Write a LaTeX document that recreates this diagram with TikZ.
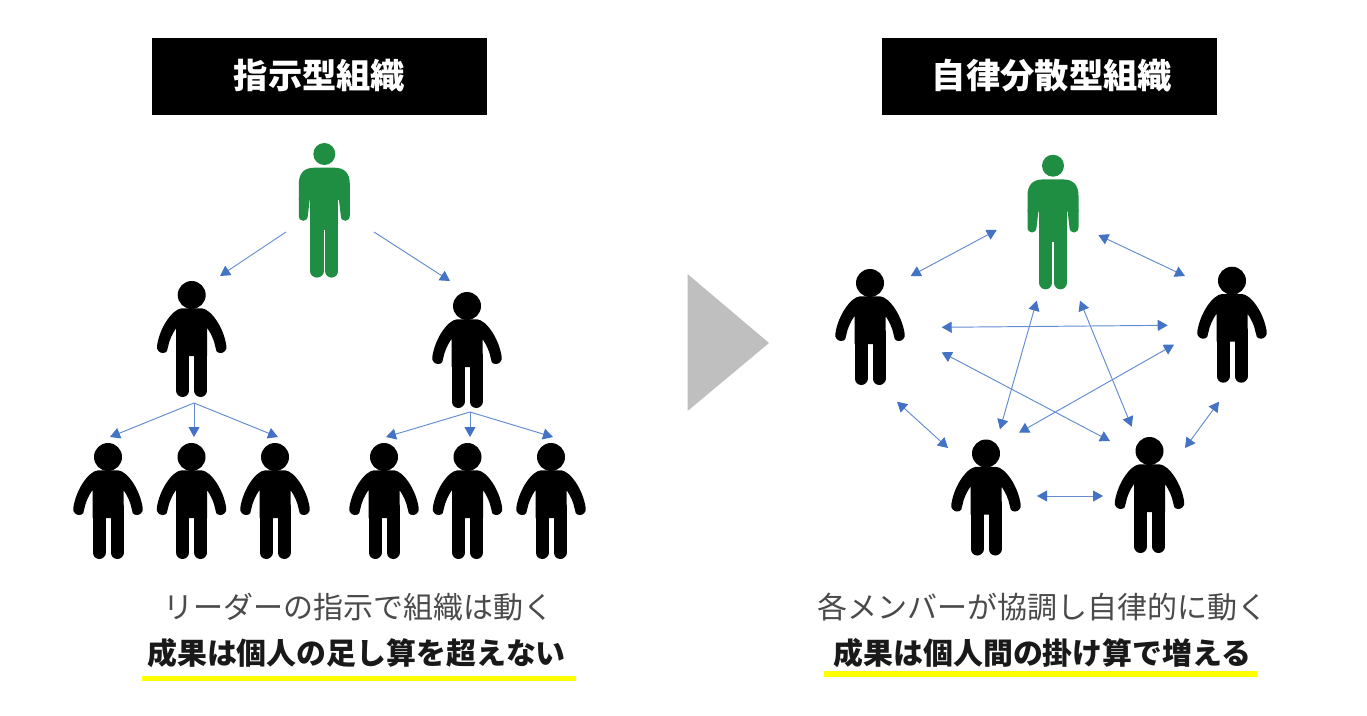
\documentclass[tikz,border=0pt]{standalone}
\usepackage{fontspec}
\usetikzlibrary{arrows.meta}
\setmainfont{Noto Sans CJK JP}
\definecolor{arrowblue}{HTML}{4472C4}
\definecolor{lineblue}{HTML}{658CD2}
\definecolor{leadgreen}{HTML}{1F8E43}
\definecolor{tri}{HTML}{BFBFBF}
\definecolor{capgray}{HTML}{4A4A4A}
\definecolor{barcol}{HTML}{FFFF00}
\tikzset{
  flow/.style={draw=lineblue,line width=0.95pt,-{Triangle[length=10pt,width=11pt,color=arrowblue]}},
  both/.style={draw=lineblue,line width=0.95pt,{Triangle[length=10pt,width=11pt,color=arrowblue]}-{Triangle[length=10pt,width=11pt,color=arrowblue]}},
  headbox/.style={fill=black},
  headtext/.style={text=white,inner sep=0pt,font=\fontsize{34.3}{38}\selectfont\bfseries},
  capthin/.style={text=capgray,inner sep=0pt,font=\fontsize{30}{34}\selectfont},
  capbold/.style={text=black!90,inner sep=0pt,font=\fontsize{29.9}{34}\selectfont\bfseries},
  bar/.style={fill=barcol,minimum height=5.5pt,inner sep=0pt,anchor=west}
}
\newcommand{\blackman}[2]{%
  \begin{scope}[shift={(#1,#2)}]
    \fill[black] (0,0) circle[radius=14pt];
    \fill[black] (-10,13.3) -- (10,13.3)
      .. controls (19,14) and (32,32) .. (34.7,51)
      .. controls (35.5,55) and (32,58) .. (29,58)
      .. controls (25,58) and (23.5,55) .. (23.7,52)
      .. controls (22.5,45) and (19,38) .. (15.5,33)
      -- (15.5,61) -- (-15.5,61) -- (-15.5,33)
      .. controls (-19,38) and (-22.5,45) .. (-23.7,52)
      .. controls (-23.5,55) and (-25,58) .. (-29,58)
      .. controls (-32,58) and (-35.5,55) .. (-34.7,51)
      .. controls (-32,32) and (-19,14) .. (-10,13.3) -- cycle;
    \draw[black,line width=13pt,line cap=round] (-9,50) -- (-9,95.5);
    \draw[black,line width=13pt,line cap=round] (9,50) -- (9,95.5);
  \end{scope}}
\newcommand{\greenman}[2]{%
  \begin{scope}[shift={(#1,#2)}]
    \fill[leadgreen] (0,0) circle[radius=11pt];
    \fill[leadgreen] (-25.5,30) .. controls (-25.5,19) and (-20,13.7) .. (-10,13.7) -- (10,13.7) .. controls (20,13.7) and (25.5,19) .. (25.5,30) -- (25.5,46) -- (-25.5,46) -- cycle;
    \fill[leadgreen] (-14,30) rectangle (14,76);
    \fill[leadgreen] (-25.5,44) -- (-25.5,61.7) .. controls (-25.5,68.5) and (-16.5,68.5) .. (-16.5,61.7) -- (-14.4,44) -- cycle;
    \fill[leadgreen] (25.5,44) -- (25.5,61.7) .. controls (25.5,68.5) and (16.5,68.5) .. (16.5,61.7) -- (14.4,44) -- cycle;
    \draw[leadgreen,line width=13.2pt,line cap=round] (-7.4,70) -- (-7.4,117);
    \draw[leadgreen,line width=13.2pt,line cap=round] (7.4,70) -- (7.4,117);
  \end{scope}}
\begin{document}
\begin{tikzpicture}[x=1pt,y=-1pt]
\useasboundingbox[fill=white] (0,0) rectangle (1367,715);
% headers
\fill[headbox] (152,38) rectangle (486.5,115);
\fill[headbox] (882,38) rectangle (1217,115);
\node[headtext] (hl) at (319.5,75.5) {指示型組織};
\node[headtext] (hr) at (1052,75.5) {自律分散型組織};
% figures left
\greenman{324.3}{154}
\blackman{191.7}{295}
\blackman{467}{306}
\blackman{108}{457}
\blackman{191.5}{457}
\blackman{275}{457}
\blackman{384}{457}
\blackman{467.5}{457}
\blackman{551}{457}
% figures right
\greenman{1053}{165.7}
\blackman{870}{283}
\blackman{1232}{280.7}
\blackman{986}{453.5}
\blackman{1149.5}{451}
% triangle
\fill[tri] (687.5,274) -- (769,343) -- (687.5,411) -- cycle;
% arrow anchors left
\coordinate (a1) at (286,232); \coordinate (a2) at (220,276);
\coordinate (a3) at (374,232); \coordinate (a4) at (450,281);
\coordinate (b0) at (194,403); \coordinate (b1) at (110,437); \coordinate (b2) at (194,437); \coordinate (b3) at (278,437);
\coordinate (c0) at (470,412); \coordinate (c1) at (386,437); \coordinate (c2) at (470,437); \coordinate (c3) at (553,437);
\draw[flow] (a1) -- (a2);
\draw[flow] (a3) -- (a4);
\draw[flow] (b0) -- (b1);
\draw[flow] (b0) -- (b2);
\draw[flow] (b0) -- (b3);
\draw[flow] (c0) -- (c1);
\draw[flow] (c0) -- (c2);
\draw[flow] (c0) -- (c3);
% arrow anchors right
\coordinate (d1) at (910.7,276); \coordinate (d2) at (996.7,230);
\coordinate (e1) at (1098.3,235); \coordinate (e2) at (1185,276);
\coordinate (f1) at (941.7,327.3); \coordinate (f2) at (1167.7,325.3);
\coordinate (g1) at (941.7,352.3); \coordinate (g2) at (1110,441);
\coordinate (h1) at (1036.7,300.7); \coordinate (h2) at (1000,429.3);
\coordinate (i1) at (1080,300.7); \coordinate (i2) at (1131.7,426.7);
\coordinate (j1) at (1174,344.7); \coordinate (j2) at (1019,432.7);
\coordinate (k1) at (897,401.7); \coordinate (k2) at (948,448);
\coordinate (l1) at (1219,401.7); \coordinate (l2) at (1185,448);
\coordinate (m1) at (1037,496); \coordinate (m2) at (1103,496);
\draw[both] (d1) -- (d2);
\draw[both] (e1) -- (e2);
\draw[both] (f1) -- (f2);
\draw[both] (g1) -- (g2);
\draw[both] (h1) -- (h2);
\draw[both] (i1) -- (i2);
\draw[both] (j1) -- (j2);
\draw[both] (k1) -- (k2);
\draw[both] (l1) -- (l2);
\draw[both] (m1) -- (m2);
% captions
\node[capthin] (t1) at (358,607) {リーダーの指示で組織は動く};
\node[capbold] (t2) at (356.5,653) {成果は個人の足し算を超えない};
\node[bar,minimum width=433.7pt] (u1) at (142,678.5) {};
\node[capthin] (t3) at (1042.5,607) {各メンバーが協調し自律的に動く};
\node[capbold] (t4) at (1042.5,653) {成果は個人間の掛け算で増える};
\node[bar,minimum width=433pt] (u2) at (824,674) {};
\end{tikzpicture}
\end{document}
